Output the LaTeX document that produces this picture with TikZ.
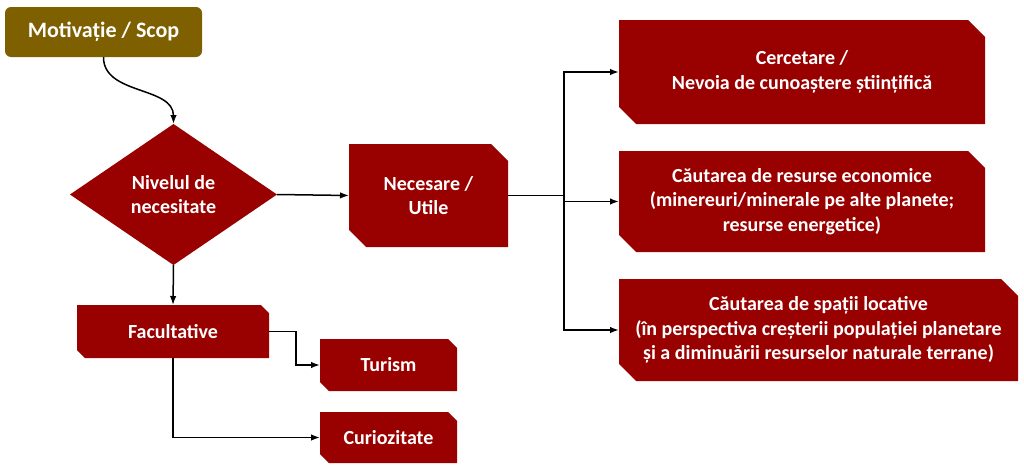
\documentclass[tikz,border=0pt]{standalone}
\usepackage{fontspec}
\setmainfont{Carlito}
\usetikzlibrary{shapes.geometric,arrows.meta}
\definecolor{dred}{HTML}{990000}
\definecolor{olive}{HTML}{7F6000}
\tikzset{
  box/.style={rectangle, inner sep=0pt, outer sep=0pt, text=white,
    font=\fontsize{20}{24.4}\selectfont\bfseries, align=center,
    path picture={\fill[dred] (path picture bounding box.north west)
      -- ([xshift=-#1]path picture bounding box.north east)
      -- ([yshift=-#1]path picture bounding box.north east)
      -- (path picture bounding box.south east)
      -- ([xshift=#1]path picture bounding box.south west)
      -- ([yshift=#1]path picture bounding box.south west) -- cycle;}},
  box/.default=16pt,
  conn/.style={line width=1.5pt, -{Latex[length=9pt,width=6.5pt]}},
  line/.style={line width=1.5pt}
}
\begin{document}
\begin{tikzpicture}[x=1pt,y=-1pt]
\useasboundingbox (0,0) rectangle (1024,471);
\node[rectangle, rounded corners=6pt, fill=olive, text=white, font=\fontsize{22}{26}\selectfont\bfseries,
  minimum width=197pt, minimum height=50pt, inner sep=0pt] (mot) at (103.5,32) {Motivație / Scop};
\node[diamond, fill=dred, text=white, font=\fontsize{20}{24.4}\selectfont\bfseries, align=center,
  minimum width=207pt, minimum height=141pt, inner sep=0pt, outer sep=0pt] (dia) at (173.5,194.5) {Nivelul de\\necesitate};
\node[box=17pt, minimum width=159pt, minimum height=103pt] (nec) at (428.5,195.5) {Necesare /\\Utile};
\node[box=17pt, minimum width=366pt, minimum height=104pt] (r1) at (802,72) {Cercetare /\\Nevoia de cunoaștere științifică};
\node[box=17pt, minimum width=366pt, minimum height=101pt] (r2) at (802,201.5) {Căutarea de resurse economice\\(minereuri/minerale pe alte planete;\\resurse energetice)};
\node[box=17pt, minimum width=399pt, minimum height=102pt] (r3) at (818.5,330) {Căutarea de spații locative\\(în perspectiva creșterii populației planetare\\și a diminuării resurselor naturale terrane)};
\node[box=8pt, minimum width=192pt, minimum height=53pt] (fac) at (173,331.5) {Facultative};
\node[box=9pt, minimum width=137pt, minimum height=52pt] (tur) at (388.5,365) {Turism};
\node[box=9pt, minimum width=137pt, minimum height=51pt] (cur) at (388.5,437.5) {Curiozitate};
\coordinate (trunk) at (564,195.5);
\coordinate (bend) at (296,331.5);
\draw[conn] (mot.south) to[out=-90,in=90] (dia.north);
\draw[conn] (dia.east) -- (nec.west);
\draw[line] (nec.east) -- (trunk);
\draw[conn] (trunk) |- (r1.west);
\draw[conn] (trunk) |- (r2.west);
\draw[conn] (trunk) |- (r3.west);
\draw[conn] (dia.south) -- (fac.north);
\draw[conn] (fac.east) -- (bend) |- (tur.west);
\draw[conn] (fac.south) |- (cur.west);
\end{tikzpicture}
\end{document}
